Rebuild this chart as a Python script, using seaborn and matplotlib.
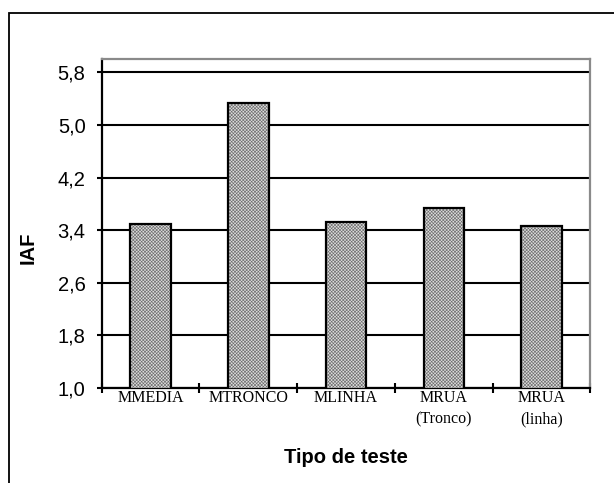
import pandas as pd
import matplotlib
matplotlib.use("Agg")
import matplotlib.pyplot as plt
import seaborn as sns
from matplotlib.patches import Rectangle
from matplotlib.ticker import FixedLocator

# -------------------------------
# DATA
# -------------------------------

tipos = ["MMEDIA", "MTRONCO", "MLINHA", "MRUA\n(Tronco)", "MRUA\n(linha)"]
iaf = [3.49, 5.34, 3.52, 3.73, 3.46]

y_ticks = [1.0, 1.8, 2.6, 3.4, 4.2, 5.0, 5.8]
y_tick_labels = ["1,0", "1,8", "2,6", "3,4", "4,2", "5,0", "5,8"]

df = pd.DataFrame({"tipo": tipos, "iaf": iaf})

# -------------------------------
# FIGURE
# -------------------------------

plt.rcParams["font.family"] = ["Liberation Sans", "DejaVu Sans"]
plt.rcParams["hatch.linewidth"] = 0.45

fig = plt.figure(figsize=(6.14, 4.83), dpi=100)
ax = fig.add_axes([0.1656, 0.1973, 0.9617 - 0.1656, 0.8772 - 0.1973])

# hatched fill
sns.barplot(x="tipo", y="iaf", data=df, ax=ax, width=0.414,
            color="#dcdcdc", edgecolor="#6e6e6e", linewidth=0,
            hatch="xxxxxxxxxx", zorder=3)

# black outline
sns.barplot(x="tipo", y="iaf", data=df, ax=ax, width=0.414,
            fill=False, edgecolor="black", linewidth=1.6, zorder=4)

ax.set_ylim(1.0, 6.0)
ax.set_xlim(-0.5, 4.5)

ax.set_yticks(y_ticks)
ax.set_yticklabels(y_tick_labels, fontsize=14.5)
ax.tick_params(axis="y", direction="out", length=3.6, width=1.5, pad=8)

# gridlines
ax.yaxis.grid(True, color="black", linewidth=1.5, zorder=1)
ax.set_axisbelow(True)

# x ticks: labels centered, tick marks between categories
ax.tick_params(axis="x", which="major", length=0, pad=1.5)
ax.xaxis.set_minor_locator(FixedLocator([-0.5, 0.5, 1.5, 2.5, 3.5, 4.5]))
ax.tick_params(axis="x", which="minor", direction="inout", length=6.5, width=1.5)
for lbl in ax.get_xticklabels():
    lbl.set_fontfamily(["Liberation Serif", "DejaVu Serif"])
    lbl.set_fontsize(11.5)
    lbl.set_linespacing(1.5)

# spines
for side in ["left", "bottom"]:
    ax.spines[side].set_color("black")
    ax.spines[side].set_linewidth(1.6)
for side in ["top", "right"]:
    ax.spines[side].set_color("#8a8a8a")
    ax.spines[side].set_linewidth(1.6)

ax.set_xlabel("Tipo de teste", fontsize=14.5, fontweight="bold")
ax.xaxis.set_label_coords(0.5, -0.184)
ax.set_ylabel("IAF", fontsize=14.5, fontweight="bold")
ax.yaxis.set_label_coords(-0.131, 0.425)

# outer chart frame
fig.patches.append(Rectangle((9.3 / 614, -0.05), 1.1, 0.9725 + 0.05,
                             transform=fig.transFigure, fill=False,
                             edgecolor="black", linewidth=1.3))

plt.savefig("out.png", dpi=100)
